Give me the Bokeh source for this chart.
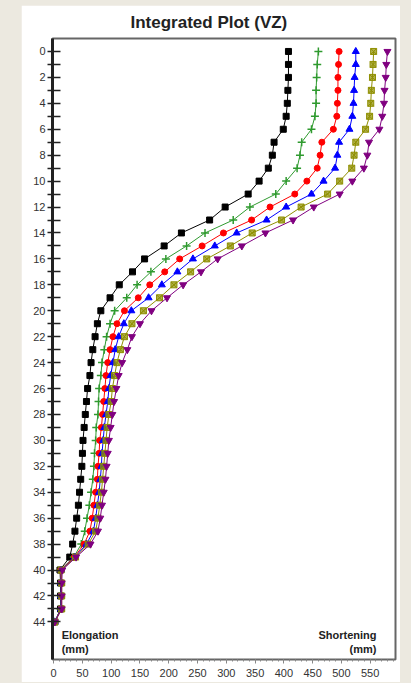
from bokeh.plotting import figure
from bokeh.models import Range1d, FixedTicker, Label, GlobalInlineStyleSheet
from bokeh.embed import file_html
from bokeh.resources import INLINE

# depth (index 0..44)
depth = list(range(45))

# displacement (mm) per series
s_black = [408, 408, 408, 407, 406, 404, 399, 383, 380, 373, 357, 338, 298, 271, 222,
           192, 158, 137, 114, 98, 82, 76, 72, 68, 65, 63, 59, 57, 55, 53,
           51, 50, 49, 47, 45, 43, 40, 37, 33, 28, 11, 12, 12, 12, 2]
s_green = [460, 458, 457, 456, 456, 454, 448, 431, 428, 423, 404, 386, 341, 312, 263,
           231, 195, 169, 145, 127, 106, 98, 92, 88, 84, 82, 79, 78, 77, 74,
           73, 71, 70, 68, 65, 62, 58, 54, 48, 35, 12, 13, 13, 12, 2]
s_red = [496, 495, 494, 494, 493, 492, 486, 466, 463, 458, 440, 419, 376, 344, 295,
         258, 219, 193, 167, 147, 123, 110, 103, 98, 94, 91, 89, 87, 85, 83,
         80, 79, 77, 76, 73, 70, 67, 63, 53, 36, 12, 13, 13, 13, 2]
s_blue = [525, 525, 523, 522, 521, 519, 514, 496, 493, 489, 469, 448, 404, 370, 318,
          280, 242, 215, 188, 165, 135, 122, 113, 107, 103, 99, 96, 94, 91, 88,
          86, 84, 83, 81, 79, 76, 73, 69, 57, 37, 13, 13, 13, 13, 2]
s_olive = [556, 555, 554, 552, 551, 549, 542, 525, 522, 518, 497, 476, 430, 396, 345,
           307, 266, 238, 209, 184, 156, 136, 123, 116, 110, 106, 102, 100, 96, 93,
           91, 89, 87, 85, 83, 80, 77, 73, 60, 38, 13, 14, 14, 14, 2]
s_purple = [580, 578, 577, 575, 574, 571, 566, 548, 545, 539, 519, 497, 452, 416, 368,
            327, 285, 256, 225, 197, 170, 150, 136, 128, 119, 113, 109, 105, 102, 99,
            96, 94, 92, 90, 87, 84, 81, 77, 64, 39, 15, 14, 14, 14, 2]

y_ticks = list(range(0, 45, 2))
y_minor = list(range(1, 45, 2))
x_ticks = list(range(0, 601, 50))
x_minor = list(range(0, 601, 10))

title_text = "Integrated Plot (VZ)"
left_label = ["Elongation", "(mm)"]
right_label = ["Shortening", "(mm)"]

FONT = "Liberation Sans"
X0, X1 = -2, 594
Y0, Y1 = 46.9, -1.0

p = figure(width=379, height=677, output_backend="svg", toolbar_location=None,
           x_range=Range1d(X0, X1), y_range=Range1d(Y0, Y1),
           min_border_left=31, min_border_right=5, min_border_top=33, min_border_bottom=23,
           title=title_text)
p.margin = (5, 11, 0, 21)
p.stylesheets = [GlobalInlineStyleSheet(
    css="html, body { margin: 0; padding: 0; overflow: hidden; background-color: #ECE9E0; }")]
p.background_fill_color = "white"
p.border_fill_color = "white"
p.outline_line_color = "#666666"
p.outline_line_width = 2

p.title.align = "left"
p.title.offset = 78
p.title.vertical_align = "top"
p.title.text_font = FONT
p.title.text_font_size = "17px"
p.title.text_font_style = "bold"
p.title.text_color = "#222222"

p.xgrid.visible = False
p.ygrid.visible = False

# y axis
yax = p.yaxis[0]
yax.ticker = FixedTicker(ticks=y_ticks, minor_ticks=y_minor)
yax.axis_line_width = 3
yax.axis_line_color = "#222222"
yax.major_tick_in = 8
yax.major_tick_out = 5
yax.minor_tick_in = 8
yax.minor_tick_out = 5
yax.major_tick_line_color = "#222222"
yax.minor_tick_line_color = "#222222"
yax.major_tick_line_width = 1.5
yax.minor_tick_line_width = 1.5
yax.major_label_text_font = FONT
yax.major_label_text_font_size = "11px"
yax.major_label_text_color = "#333333"
yax.major_label_standoff = 2

# x axis
xax = p.xaxis[0]
xax.ticker = FixedTicker(ticks=x_ticks, minor_ticks=x_minor)
xax.axis_line_color = "#666666"
xax.axis_line_width = 1
xax.major_tick_in = 0
xax.major_tick_out = 4
xax.minor_tick_in = 0
xax.minor_tick_out = 2
xax.major_tick_line_color = "#888888"
xax.minor_tick_line_color = "#888888"
xax.major_label_text_font = FONT
xax.major_label_text_font_size = "11px"
xax.major_label_text_color = "#333333"
xax.major_label_standoff = 5

series = [
    (s_black, "black", "square", 6, 1.0),
    (s_green, "#2f9a2f", "cross", 8, 1.0),
    (s_red, "#ff0000", "circle", 6, 1.0),
    (s_blue, "#0000ff", "triangle", 7, 1.0),
    (s_olive, "#8f8f00", "square_x", 6, 0.7),
    (s_purple, "#800080", "inverted_triangle", 7, 1.0),
]
for vals, col, mk, sz, fa in series:
    p.line(vals, depth, line_color=col, line_width=1)
    p.scatter(vals, depth, marker=mk, size=sz, line_color=col, fill_color=col,
              fill_alpha=fa, line_width=1.5 if mk == "cross" else 1)

for i, t in enumerate(left_label):
    p.add_layout(Label(x=14, y=45.0 + 1.1 * i, text=t, text_font=FONT,
                       text_font_size="11px", text_font_style="bold",
                       text_color="#222222", text_align="left",
                       text_baseline="alphabetic"))
for i, t in enumerate(right_label):
    p.add_layout(Label(x=561, y=45.0 + 1.1 * i, text=t, text_font=FONT,
                       text_font_size="11px", text_font_style="bold",
                       text_color="#222222", text_align="right",
                       text_baseline="alphabetic"))

open("out.html", "w").write(file_html(p, INLINE))
